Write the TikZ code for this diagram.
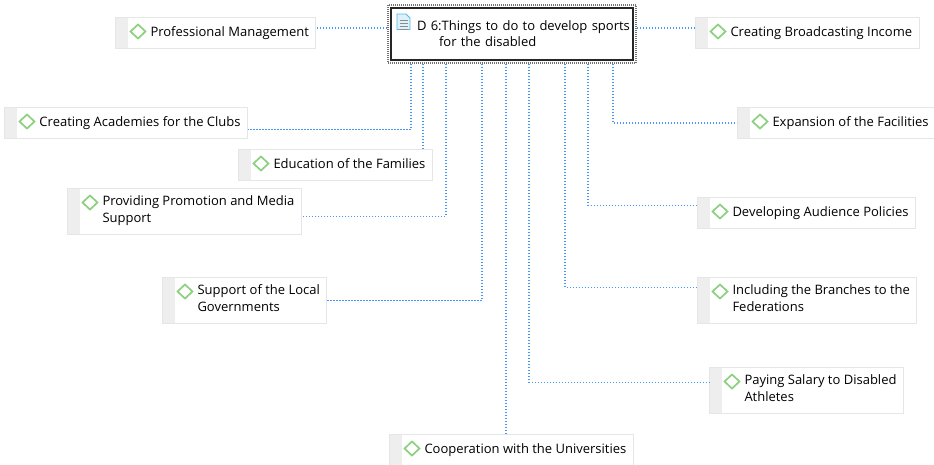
\documentclass[tikz,border=0pt]{standalone}
\usepackage{fontspec}
\setmainfont{Open Sans}

\definecolor{linkblue}{RGB}{70,150,250}
\definecolor{leafgreen}{RGB}{140,208,128}
\definecolor{stripgray}{RGB}{238,238,238}
\definecolor{edgegray}{RGB}{230,230,230}
\definecolor{iconblue}{RGB}{80,185,230}

\tikzset{
	link/.style={draw=linkblue, line width=1.3pt, dash pattern=on 1.4pt off 1.6pt},
	leaf/.style={draw=edgegray, fill=white, line width=1pt, anchor=north west, align=left,
		inner xsep=7pt, inner ysep=7pt, font=\fontsize{13pt}{17pt}\selectfont, text=black,
		execute at begin node=\strut, execute at end node=\strut,
		path picture={
			\fill[stripgray] (path picture bounding box.south west) rectangle ([xshift=12pt]path picture bounding box.north west);
			\draw[leafgreen, solid, line width=1.7pt] ([shift={(15pt,-14pt)}]path picture bounding box.north west) -- ++(7.5pt,7pt) -- ++(7.5pt,-7pt) -- ++(-7.5pt,-7pt) -- cycle;
		}},
	topic/.style={draw=black!55, line width=2pt, dash pattern=on 1pt off 1pt, fill=white, anchor=north west,
		minimum width=248pt, minimum height=58pt, text width=240pt, inner xsep=4pt, inner ysep=0pt,
		align=left, font=\fontsize{13pt}{16pt}\selectfont, text=black,
		path picture={
			\draw[black!85, solid, line width=1.3pt] ([shift={(3pt,-3pt)}]path picture bounding box.north west) rectangle ([shift={(-3pt,3pt)}]path picture bounding box.south east);
			\draw[iconblue, solid, fill=iconblue!20, line width=0.9pt] ([shift={(9pt,-9pt)}]path picture bounding box.north west) -- ++(9pt,0pt) -- ++(4pt,-4pt) -- ++(0pt,-11.5pt) -- ++(-13pt,0pt) -- cycle;
			\foreach \k in {6.5,9.5,12.5,15.5}
				\draw[black!45, solid, line width=1pt] ([shift={(11.5pt,-9pt-\k pt)}]path picture bounding box.north west) -- ++(8pt,0pt);
		}},
}
\newcommand\pad{\hspace*{28pt}}

\begin{document}
\begin{tikzpicture}[x=1pt, y=-1pt]
	\useasboundingbox (0,0) rectangle (934,464);

	% central topic
	\node[topic] (main) at (387,4) {\hspace*{25pt}D 6:Things to do to develop sports\\\hspace*{47pt}for the disabled};

	% left side
	\node[leaf] (prof) at (115,17) {\pad Professional Management};
	\node[leaf] (acad) at (4,107) {\pad Creating Academies for the Clubs};
	\node[leaf] (edu) at (238,149) {\pad Education of the Families};
	\node[leaf] (promo) at (67,188) {\pad Providing Promotion and Media\\\pad Support};
	\node[leaf] (local) at (162,277) {\pad Support of the Local\\\pad Governments};
	\node[leaf] (uni) at (389,434) {\pad Cooperation with the Universities};

	% right side
	\node[leaf] (cast) at (695,17) {\pad Creating Broadcasting Income};
	\node[leaf] (facil) at (737,107) {\pad Expansion of the Facilities};
	\node[leaf] (aud) at (697,197) {\pad Developing Audience Policies};
	\node[leaf] (branch) at (697,277) {\pad Including the Branches to the\\\pad Federations};
	\node[leaf] (salary) at (709,367) {\pad Paying Salary to Disabled\\\pad Athletes};

	% connectors
	\coordinate (mw) at ([yshift=6pt]main.west);
	\coordinate (me) at ([yshift=6pt]main.east);
	\draw[link] (mw) -- (mw -| prof.east);
	\draw[link] (me) -- (me -| cast.west);
	\draw[link] ([xshift=-101pt]main.south) |- ([yshift=-6.5pt]acad.east);
	\draw[link] ([xshift=-89pt]main.south) -- ([xshift=-89pt]main.south |- edu.north);
	\draw[link] ([xshift=-66pt]main.south) |- ([yshift=-5pt]promo.east);
	\draw[link] ([xshift=-30pt]main.south) |- (local.east);
	\draw[link] ([xshift=-6pt]main.south) -- ([xshift=-6pt]main.south |- uni.north);
	\draw[link] ([xshift=17pt]main.south) |- ([yshift=8pt]salary.west);
	\draw[link] ([xshift=53pt]main.south) |- ([yshift=13pt]branch.west);
	\draw[link] ([xshift=76pt]main.south) |- ([yshift=7.5pt]aud.west);
	\draw[link] ([xshift=101pt]main.south) |- (facil.west);
\end{tikzpicture}
\end{document}
